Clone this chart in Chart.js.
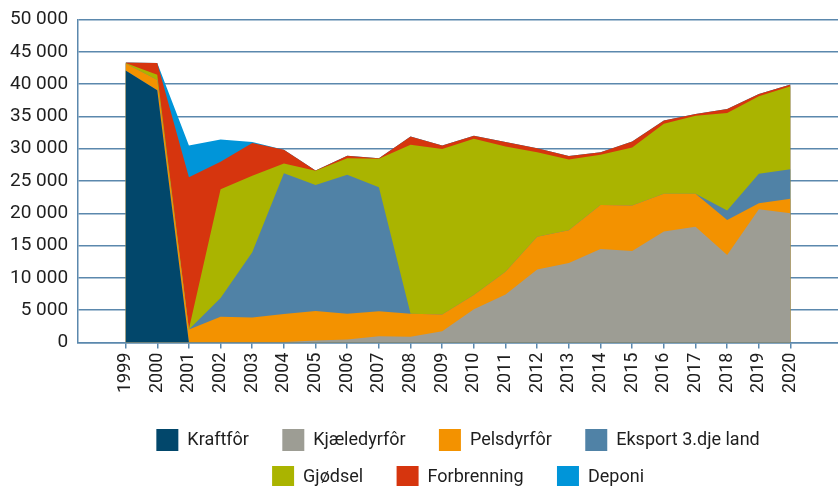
<!DOCTYPE html>
<html>
<head>
<meta charset="utf-8">
<script src="https://cdn.jsdelivr.net/npm/chart.js@4.4.1/dist/chart.umd.min.js"></script>
<style>
  html, body { margin: 0; padding: 0; background: #fff; }
  #wrap { width: 838px; height: 486px; }
</style>
</head>
<body>
<div id="wrap"><canvas id="Chart"></canvas></div>
<script>
const years = [1999, 2000, 2001, 2002, 2003, 2004, 2005, 2006, 2007, 2008, 2009, 2010,
  2011, 2012, 2013, 2014, 2015, 2016, 2017, 2018, 2019, 2020];
const yTicks = [0, 5000, 10000, 15000, 20000, 25000, 30000, 35000, 40000, 45000, 50000];

const kraftfor = [42100, 39050, 0, 0, 0, 0, 0, 0, 0, 0, 0, 0, 0, 0, 0, 0, 0, 0, 0, 0, 0, 0];
const kjaeledyrfor = [0, 0, 0, 0, 0, 100, 300, 470, 990, 880, 1760, 5170,
  7450, 11320, 12300, 14480, 14170, 17170, 17940, 13550, 20630, 20010];
const pelsdyrfor = [1100, 1600, 2000, 4000, 3880, 4300, 4570, 3980, 3870, 3570, 2580, 2170,
  3510, 5070, 5080, 6820, 7030, 5840, 5070, 5430, 930, 2230];
const eksport = [0, 0, 0, 2880, 10080, 21800, 19530, 21510, 19180, 0, 0, 0,
  0, 0, 0, 0, 0, 0, 0, 1440, 4560, 4590];
const gjodsel = [50, 800, 100, 16860, 11840, 1500, 2180, 2580, 4400, 26160, 25600, 24200,
  19390, 13080, 10950, 7760, 9000, 10850, 12100, 15100, 11990, 12830];
const forbrenning = [100, 1800, 23500, 4240, 5100, 2150, 50, 360, 100, 1290, 570, 460,
  670, 620, 560, 410, 920, 520, 250, 620, 360, 260];
const deponi = [0, 0, 4900, 3450, 150, 0, 0, 0, 0, 0, 0, 0,
  0, 0, 0, 0, 0, 0, 0, 0, 0, 0];

const gridColor = '#5b88ad';
const textColor = '#1e1e1e';
Chart.defaults.font.family = 'Roboto, "Noto Sans", sans-serif';
Chart.defaults.font.size = 18;
Chart.defaults.color = textColor;

function series(label, values, color) {
    return {
        label: label,
        data: values.map((v, i) => ({ x: years[i], y: v })),
        backgroundColor: color,
        borderColor: color,
        borderWidth: 0,
        pointRadius: 0,
        pointHoverRadius: 0,
        tension: 0,
        fill: 'origin'
    };
}

// last item in each legend row gets no trailing gap
const rowEnds = ['Eksport 3.dje land', 'Deponi'];

// squeeze the legend box (keeping its centre) so it breaks 4 + 3
const legendRows = {
    id: 'legendRows',
    afterLayout(chart) {
        const lg = chart.legend;
        const d = 30;
        lg.left += d;
        lg.right -= d;
        lg.maxWidth = lg.right - lg.left;
        lg.fit();
        lg.adjustHitBoxes();
    }
};

const ctx = document.getElementById('Chart').getContext('2d');
const myChart = new Chart(ctx, {
    type: 'line',
    data: {
        datasets: [
            series('Kraftfôr', kraftfor, '#02476b'),
            series('Kjæledyrfôr', kjaeledyrfor, '#9d9d94'),
            series('Pelsdyrfôr', pelsdyrfor, '#f39200'),
            series('Eksport 3.dje land', eksport, '#5082a6'),
            series('Gjødsel', gjodsel, '#aab400'),
            series('Forbrenning', forbrenning, '#d6350e'),
            series('Deponi', deponi, '#0095d9')
        ]
    },
    plugins: [legendRows],
    options: {
        responsive: true,
        maintainAspectRatio: false,
        animation: false,
        layout: { padding: { top: 0, right: 0, left: 0, bottom: -12 } },
        plugins: {
            tooltip: { enabled: false },
            legend: {
                position: 'bottom',
                fullSize: false,
                labels: {
                    boxWidth: 22,
                    boxHeight: 22,
                    padding: 15,
                    color: textColor,
                    font: { size: 18 },
                    generateLabels: function (chart) {
                        const items = Chart.defaults.plugins.legend.labels.generateLabels(chart);
                        items.forEach(it => {
                            it.lineWidth = 0;
                            if (rowEnds.indexOf(it.text) < 0) it.text = it.text + '\u2003';
                        });
                        return items;
                    }
                }
            }
        },
        scales: {
            x: {
                type: 'linear',
                min: 1997.5,
                max: 2021.5,
                afterBuildTicks: function (scale) {
                    scale.ticks = years.map(y => ({ value: y }));
                },
                afterFit: function (scale) {
                    scale.height += 17;
                },
                grid: {
                    drawOnChartArea: false,
                    drawTicks: true,
                    tickLength: 6,
                    color: gridColor,
                    lineWidth: 1.5
                },
                border: { color: gridColor, width: 1.5 },
                ticks: {
                    minRotation: 90,
                    maxRotation: 90,
                    autoSkip: false,
                    padding: 4,
                    color: textColor,
                    font: { size: 18 },
                    callback: v => String(v)
                }
            },
            y: {
                stacked: true,
                min: 0,
                max: 50000,
                afterBuildTicks: function (scale) {
                    scale.ticks = yTicks.map(v => ({ value: v }));
                },
                grid: {
                    color: gridColor,
                    lineWidth: 1.5,
                    drawTicks: false
                },
                border: { color: gridColor, width: 1.5 },
                ticks: {
                    padding: 10,
                    color: textColor,
                    font: { size: 19, lineHeight: 1 },
                    callback: v => String(v).replace(/\B(?=(\d{3})+(?!\d))/g, ' ')
                }
            }
        }
    }
});
</script>
</body>
</html>
